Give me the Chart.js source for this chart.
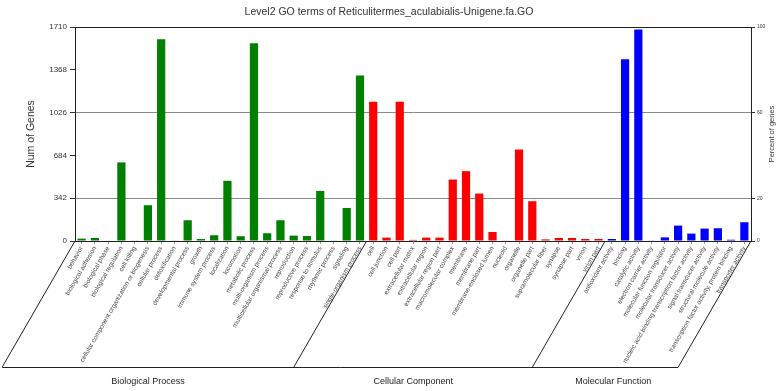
<!DOCTYPE html>
<html>
<head>
<meta charset="utf-8">
<script src="https://cdn.jsdelivr.net/npm/chart.js@4/dist/chart.umd.min.js"></script>
<style>
  html, body { margin: 0; padding: 0; background: #fff; }
  #wrap { width: 778px; height: 391px; }
</style>
</head>
<body>
<div id="wrap"><canvas id="go-chart"></canvas></div>
<script>
// GO level 2 terms, grouped by ontology
const bpTerms = ['behavior', 'biological adhesion', 'biological phase', 'biological regulation', 'cell killing',
    'cellular component organization or biogenesis', 'cellular process', 'detoxification', 'developmental process',
    'growth', 'immune system process', 'localization', 'locomotion', 'metabolic process', 'multi-organism process',
    'multicellular organismal process', 'reproduction', 'reproductive process', 'response to stimulus',
    'rhythmic process', 'signaling', 'single-organism process'];
const bpCounts = [19, 24, 4, 628, 3, 286, 1613, 3, 166, 16, 46, 481, 38, 1581, 62, 166, 43, 40, 400, 3, 264, 1322];

const ccTerms = ['cell', 'cell junction', 'cell part', 'extracellular matrix', 'extracellular region',
    'extracellular region part', 'macromolecular complex', 'membrane', 'membrane part', 'membrane-enclosed lumen',
    'nucleoid', 'organelle', 'organelle part', 'supramolecular fiber', 'synapse', 'synapse part', 'virion', 'virion part'];
const ccCounts = [1113, 27, 1113, 9, 27, 27, 491, 558, 379, 72, 3, 732, 318, 13, 24, 24, 16, 16];

const mfTerms = ['antioxidant activity', 'binding', 'catalytic activity', 'electron carrier activity',
    'molecular function regulator', 'molecular transducer activity',
    'nucleic acid binding transcription factor activity', 'signal transducer activity',
    'structural molecule activity', 'transcription factor activity, protein binding', 'transporter activity'];
const mfCounts = [16, 1453, 1690, 3, 29, 123, 59, 99, 102, 10, 150];

const groupNames = ['Biological Process', 'Cellular Component', 'Molecular Function'];
const groupColors = ['#008000', '#ff0000', '#0000ff'];

const geneTicks = [0, 342, 684, 1026, 1368, 1710];
const percentTicks = [0, 20, 60, 100];

const FONT = '"Liberation Sans", Arial, sans-serif';

const allTerms = bpTerms.concat(ccTerms, mfTerms);
const allCounts = bpCounts.concat(ccCounts, mfCounts);
const groupSizes = [bpTerms.length, ccTerms.length, mfTerms.length];
const barColors = [];
groupSizes.forEach((n, g) => {
    for (let i = 0; i < n; i++) barColors.push(groupColors[g]);
});

// draws the frame top, the slanted group brackets, the group names and the right axis title
const bracketPlugin = {
    id: 'goBrackets',
    afterDraw(chart) {
        const ctx = chart.ctx;
        const area = chart.chartArea;
        const xs = chart.scales.x;
        const baseY = 367;
        const dx = (baseY - area.bottom) / Math.tan(Math.PI / 3);

        ctx.save();
        ctx.strokeStyle = '#222';
        ctx.lineWidth = 1;

        // top border of the plot
        ctx.beginPath();
        ctx.moveTo(area.left, area.top + 0.5);
        ctx.lineTo(area.right, area.top + 0.5);
        ctx.stroke();

        // boundaries between groups
        const bounds = [area.left];
        let idx = 0;
        for (let g = 0; g < groupSizes.length - 1; g++) {
            idx += groupSizes[g];
            bounds.push((xs.getPixelForValue(idx - 1) + xs.getPixelForValue(idx)) / 2);
        }
        bounds.push(area.right);

        bounds.forEach(bx => {
            ctx.beginPath();
            ctx.moveTo(bx, area.bottom);
            ctx.lineTo(bx - dx, baseY);
            ctx.stroke();
        });
        ctx.beginPath();
        ctx.moveTo(area.left - dx, baseY + 0.5);
        ctx.lineTo(area.right - dx, baseY + 0.5);
        ctx.stroke();

        // group names
        ctx.fillStyle = '#222';
        ctx.font = '9px ' + FONT;
        ctx.textAlign = 'center';
        ctx.textBaseline = 'middle';
        groupNames.forEach((name, g) => {
            const cx = (bounds[g] + bounds[g + 1]) / 2 - dx;
            ctx.fillText(name, cx + (g === 2 ? 8 : 0), 382);
        });

        // right axis title, reading bottom to top
        ctx.translate(772, (area.top + area.bottom) / 2);
        ctx.rotate(-Math.PI / 2);
        ctx.font = '7.5px ' + FONT;
        ctx.fillStyle = '#333';
        ctx.fillText('Percent of genes', 0, 0);
        ctx.restore();
    }
};

new Chart(document.getElementById('go-chart'), {
    type: 'bar',
    data: {
        labels: allTerms,
        datasets: [{
            label: 'Num of Genes',
            data: allCounts,
            backgroundColor: barColors,
            borderWidth: 0,
            barPercentage: 0.62,
            categoryPercentage: 1.0
        }]
    },
    options: {
        responsive: true,
        maintainAspectRatio: false,
        animation: false,
        layout: { padding: 0 },
        plugins: {
            legend: { display: false },
            tooltip: { enabled: false },
            title: {
                display: true,
                text: 'Level2 GO terms of Reticulitermes_aculabialis-Unigene.fa.GO',
                color: '#333',
                font: { family: FONT, size: 10.5, weight: 'normal' },
                padding: { top: 6, bottom: 8.4 }
            }
        },
        scales: {
            x: {
                offset: true,
                grid: { display: true, drawOnChartArea: false, offset: false, tickLength: 3, color: '#999' },
                border: { display: true, color: '#222' },
                ticks: {
                    autoSkip: false,
                    minRotation: 60,
                    maxRotation: 60,
                    padding: 1,
                    color: '#444',
                    font: { family: FONT, size: 6.5 }
                },
                afterFit(scale) { scale.height = 150; }
            },
            y: {
                position: 'left',
                min: 0,
                max: 1710,
                afterBuildTicks(scale) { scale.ticks = geneTicks.map(v => ({ value: v })); },
                grid: {
                    color: c => (c.tick && (c.tick.value === 342 || c.tick.value === 1026)) ? '#8a8a8a' : 'rgba(0,0,0,0)',
                    tickColor: '#333',
                    tickLength: 5
                },
                border: { display: true, color: '#222' },
                ticks: {
                    padding: 3,
                    color: '#333',
                    font: { family: FONT, size: 8 },
                    callback: v => String(v)
                },
                title: {
                    display: true,
                    text: 'Num of Genes',
                    color: '#333',
                    font: { family: FONT, size: 10.5 },
                    padding: { top: 25, bottom: 0 }
                },
                afterFit(scale) { scale.width = 75; }
            },
            y2: {
                position: 'right',
                min: 0,
                max: 100,
                afterBuildTicks(scale) { scale.ticks = percentTicks.map(v => ({ value: v })); },
                grid: { drawOnChartArea: false, tickColor: '#333', tickLength: 4 },
                border: { display: true, color: '#222' },
                ticks: {
                    padding: 2,
                    color: '#333',
                    font: { family: FONT, size: 5 },
                    callback: v => String(v)
                },
                afterFit(scale) { scale.width = 27; }
            }
        }
    },
    plugins: [bracketPlugin]
});
</script>
</body>
</html>
